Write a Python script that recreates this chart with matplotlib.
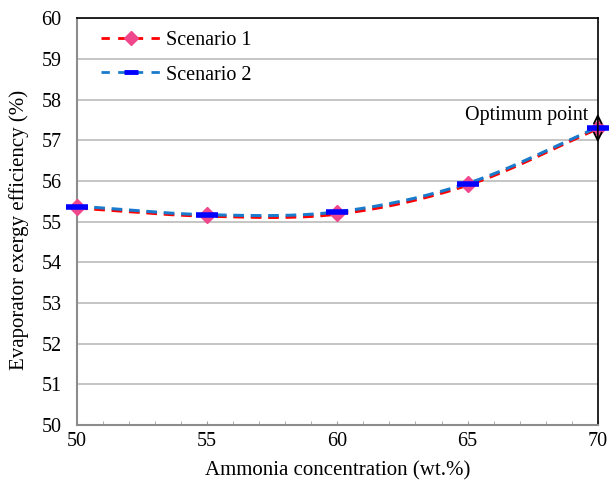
import numpy as np
import matplotlib
matplotlib.use("Agg")
import matplotlib.pyplot as plt
from matplotlib.ticker import MultipleLocator

concentration = [50, 55, 60, 65, 70]
scenario1 = [55.36, 55.16, 55.21, 55.92, 57.31]
scenario2 = [55.37, 55.16, 55.23, 55.93, 57.31]
x_ticks = [50, 55, 60, 65, 70]
y_ticks = [50, 51, 52, 53, 54, 55, 56, 57, 58, 59, 60]


def smooth(xs, ys, n=40):
    xs = np.asarray(xs, float)
    ys = np.asarray(ys, float)
    px = np.concatenate([[2 * xs[0] - xs[1]], xs, [2 * xs[-1] - xs[-2]]])
    py = np.concatenate([[2 * ys[0] - ys[1]], ys, [2 * ys[-1] - ys[-2]]])
    ox, oy = [], []
    t = np.linspace(0, 1, n)
    for i in range(1, len(px) - 2):
        for p, o in ((px, ox), (py, oy)):
            p0, p1, p2, p3 = p[i - 1], p[i], p[i + 1], p[i + 2]
            seg = 0.5 * ((2 * p1) + (-p0 + p2) * t + (2 * p0 - 5 * p1 + 4 * p2 - p3) * t ** 2
                         + (-p0 + 3 * p1 - 3 * p2 + p3) * t ** 3)
            o.extend(seg if i == 1 else seg[1:])
    return np.array(ox), np.array(oy)


plt.rcParams['font.family'] = ['Liberation Serif', 'DejaVu Serif']
plt.rcParams['font.size'] = 14.5

fig = plt.figure(figsize=(6.10, 4.86), dpi=100)
ax = fig.add_axes([0.126, 0.1255, 0.854, 0.837])

ax.set_xlim(50, 70)
ax.set_ylim(50, 60)
ax.set_xticks(x_ticks)
ax.set_yticks(y_ticks)
ax.xaxis.set_minor_locator(MultipleLocator(1))
ax.grid(axis='y', color='#c0c0c0', lw=1.3)
ax.set_axisbelow(True)
ax.tick_params(axis='x', which='both', direction='in', length=3, color='#a0a0a0', pad=5,
               labelsize=14.5)
ax.tick_params(axis='y', direction='in', length=0, pad=11, labelsize=14.5)
for s in ('left', 'bottom'):
    ax.spines[s].set_color('#8c8c8c')
    ax.spines[s].set_linewidth(1.5)
for s in ('top', 'right'):
    ax.spines[s].set_color('black')
    ax.spines[s].set_linewidth(1.2)

dash = (0, (3.5, 2.2))
sx1, sy1 = smooth(concentration, scenario1)
sx2, sy2 = smooth(concentration, scenario2)
ax.plot(sx1, sy1 - 0.025, color='#ff0000', lw=2.2, ls=dash, zorder=3)
ax.plot(concentration, scenario1, ls='none', marker='D', ms=8, color='#f0468c',
        zorder=4, clip_on=False)
ax.plot(sx2, sy2 + 0.01, color='#1a7acc', lw=2.2, ls=dash, zorder=3)
ax.plot(concentration, scenario2, ls='none', marker='_', ms=16, mew=4, color='#0000ff',
        zorder=5, clip_on=False)

# legend handles
h1, = ax.plot([], [], color='#ff0000', lw=2.0, ls=(0, (3.0, 3.0)), marker='D', ms=7,
              mfc='#f0468c', mec='#f0468c')
h2, = ax.plot([], [], color='#1a7acc', lw=2.0, ls=(0, (3.0, 3.0)), marker='_', ms=10,
              mew=3.5, mec='#0000ff')
ax.legend([h1, h2], ['Scenario 1', 'Scenario 2'], loc='upper left', frameon=False,
          handlelength=2.95, handletextpad=0.3, labelspacing=0.75, fontsize=14.5,
          borderpad=0, borderaxespad=0, bbox_to_anchor=(0.046, 0.968))

ax.annotate('', xy=(70, 57.72), xytext=(70, 56.88),
            arrowprops=dict(arrowstyle='<->', color='black', lw=1.3, mutation_scale=14),
            annotation_clip=False, zorder=6)
ax.text(69.65, 57.62, 'Optimum point', ha='right', va='center', fontsize=14.5)

ax.set_xlabel('Ammonia concentration (wt.%)', fontsize=15)
ax.set_ylabel('Evaporator exergy efficiency (%)', fontsize=15)
ax.xaxis.set_label_coords(0.5, -0.088)
ax.yaxis.set_label_coords(-0.092, 0.48)

fig.savefig('out.png', dpi=100)
